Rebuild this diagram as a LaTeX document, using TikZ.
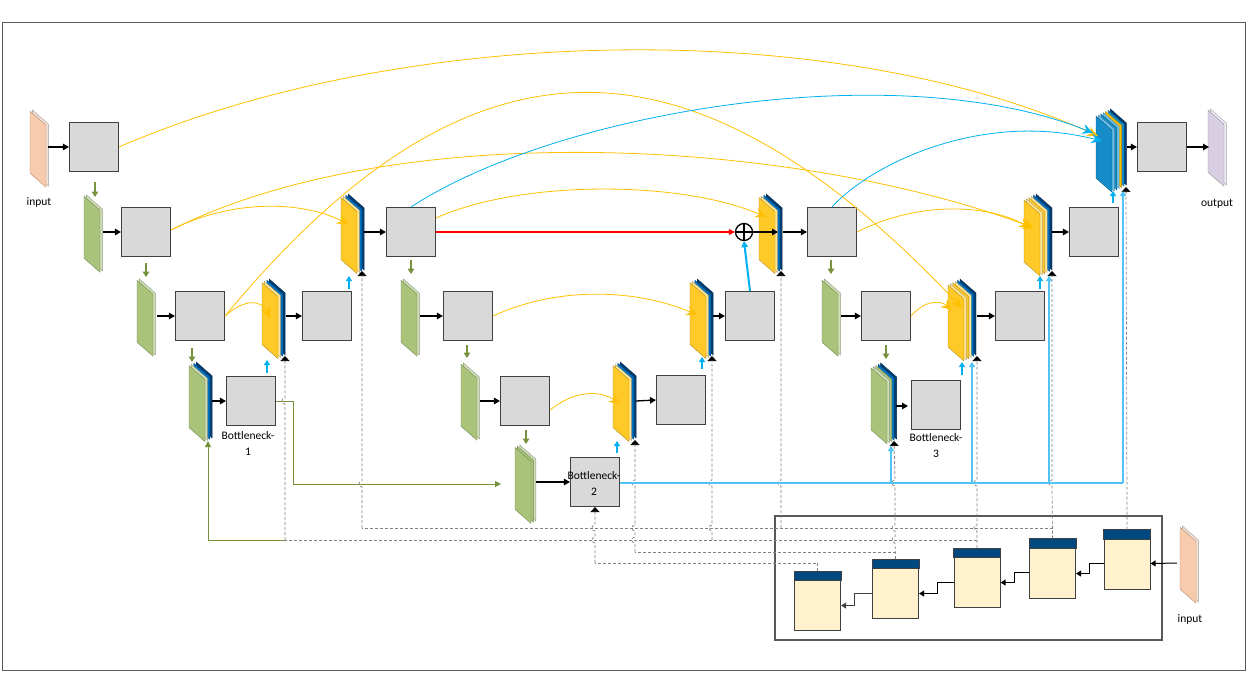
\documentclass[tikz,border=0pt]{standalone}
\usepackage{fontspec}
\setmainfont{Carlito}
\usetikzlibrary{arrows.meta,calc}
\definecolor{boxgray}{RGB}{217,217,217}
\definecolor{boxedge}{RGB}{64,64,64}
\definecolor{peach}{RGB}{248,203,173}
\definecolor{peachL}{RGB}{240,225,215}
\definecolor{grn}{RGB}{169,196,122}
\definecolor{grnL}{RGB}{208,222,186}
\definecolor{grnArrow}{RGB}{118,146,60}
\definecolor{yel}{RGB}{255,201,40}
\definecolor{yelL}{RGB}{255,230,153}
\definecolor{blu}{RGB}{0,112,192}
\definecolor{navy}{RGB}{0,60,110}
\definecolor{skyb}{RGB}{0,176,240}
\definecolor{skyL}{RGB}{80,196,242}
\definecolor{lav}{RGB}{216,207,227}
\definecolor{lavL}{RGB}{238,234,242}
\definecolor{cream}{RGB}{255,242,204}
\definecolor{hdr}{RGB}{0,72,128}
\definecolor{dashc}{RGB}{127,127,127}
\definecolor{curveY}{RGB}{255,192,0}
\definecolor{outb}{RGB}{22,140,200}
\definecolor{outbL}{RGB}{110,190,232}
\definecolor{framec}{RGB}{89,89,89}
\newcommand{\slab}[4]{%
  \foreach \c [count=\i] in {#4}{%
    \pgfmathsetmacro{\sx}{#1+(#3-\i)*2.4}%
    \pgfmathsetmacro{\sy}{#2+(\i-1)*1.2}%
    \filldraw[fill=\c,draw=\c!70!black,line width=0.4pt] (\sx,\sy) -- ++(16,14) -- ++(0,62) -- ++(-16,-14) -- cycle;
  }}
\newcommand{\jp}[2]{-- (#1,#2+3) .. controls (#1-4,#2+3) and (#1-4,#2-3) .. (#1,#2-3)}
\tikzset{
  gbox/.style={draw=boxedge,fill=boxgray,line width=1.1pt,minimum width=49pt,minimum height=49pt,inner sep=0pt},
  pbox/.style={draw=boxedge,fill=cream,line width=1.1pt,minimum width=46pt,minimum height=59pt,inner sep=0pt,anchor=north west},
  conn/.style={-{Triangle[length=6pt,width=6.5pt]},line width=1.3pt,black},
  garr/.style={-{Triangle[length=5.5pt,width=6.5pt]},draw=grnArrow,line width=1.3pt},
  gline/.style={draw=grnArrow,line width=1pt},
  cstub/.style={-{Triangle[length=5pt,width=6pt]},draw=skyb,line width=1.3pt},
  cline/.style={draw=skyL,line width=1.3pt},
  clinea/.style={-{Triangle[length=5pt,width=6pt]},draw=skyL,line width=1.3pt},
  dl/.style={draw=dashc,dash pattern=on 3pt off 2pt,line width=0.7pt},
  tri/.style={-{Triangle[length=5pt,width=9pt,color=black]}},
  ya/.style={draw=curveY,line width=0.8pt,-{Stealth[length=11pt,width=10pt,inset=4pt]}},
  ca/.style={draw=skyb,line width=0.8pt,-{Stealth[length=11pt,width=10pt,inset=4pt]}},
  parr/.style={-{Triangle[length=5pt,width=6pt]},line width=1pt,black},
  lbl/.style={font=\fontsize{11.5}{16}\selectfont,align=center,inner sep=0pt},
}
\begin{document}
\begin{tikzpicture}[x=1pt,y=-1pt]
\useasboundingbox (0,0) rectangle (1248,673);
\draw[framec,line width=1pt] (2,22) rectangle (1245,670);
% ---------- slabs ----------
\slab{30}{110}{2}{peachL,peach}
\slab{84}{195}{2}{grnL,grn}
\slab{137}{279}{2}{grnL,grn}
\slab{189}{362}{4}{navy,blu,grnL,grn}
\slab{262}{279}{4}{navy,blu,yelL,yel}
\slab{341}{194}{4}{navy,blu,yelL,yel}
\slab{401}{279}{2}{grnL,grn}
\slab{461}{363}{2}{grnL,grn}
\slab{515}{445}{3}{grnL,grn,grn}
\slab{613}{362}{4}{navy,blu,yelL,yel}
\slab{690}{279}{4}{navy,blu,yelL,yel}
\slab{759}{194}{4}{navy,blu,yelL,yel}
\slab{822}{279}{2}{grnL,grn}
\slab{871}{363}{5}{navy,blu,grn,grnL,grn}
\slab{948}{279}{6}{navy,blu,yelL,yel,yelL,yel}
\slab{1024}{194}{6}{navy,blu,yelL,yel,yelL,yel}
\slab{1096}{109}{7}{navy,outb,curveY,outbL,outb,outbL,outb}
\slab{1208}{109}{2}{lavL,lav}
\slab{1180}{526}{2}{peachL,peach}
% ---------- gray boxes ----------
\node[gbox] (A1) at (94,147) {};
\node[gbox] (A2) at (146,232) {};
\node[gbox] (A3) at (200,316) {};
\node[gbox] (B1) at (251,401) {};
\node[gbox] (C3) at (327,316) {};
\node[gbox] (C2) at (411,232) {};
\node[gbox] (D2) at (468,316) {};
\node[gbox] (D3) at (525,401) {};
\node[gbox] (B2) at (595,482) {};
\node[gbox] (E4) at (681,400) {};
\node[gbox] (E3) at (750,316) {};
\node[gbox] (E2) at (832,232) {};
\node[gbox] (F3) at (886,316) {};
\node[gbox] (B3) at (936,405) {};
\node[gbox] (G3) at (1020,316) {};
\node[gbox] (G2) at (1094,232) {};
\node[gbox] (H1) at (1162,147) {};
% ---------- labels ----------
\node[lbl] (tin) at (39,202) {input};
\node[lbl] (tout) at (1217,204) {output};
\node[lbl] (tb1) at (248,443) {Bottleneck-\\1};
\node[lbl] (tb2) at (594,483) {Bottleneck-\\2};
\node[lbl] (tb3) at (936,446) {Bottleneck-\\3};
\node[lbl] (tin2) at (1190,619) {input};
% ---------- slab anchor coordinates ----------
\coordinate (s0r) at (48,147);
\coordinate (g1r) at (103,232);
\coordinate (g2r) at (157,316);
\coordinate (g3r) at (212,401);
\coordinate (y13r) at (286,316);
\coordinate (y12r) at (364,232);
\coordinate (g4r) at (420,316);
\coordinate (g5r) at (480,401);
\coordinate (g6r) at (536,482);
\coordinate (g6l) at (501,484);
\coordinate (y24r) at (636,401);
\coordinate (y23r) at (713,316);
\coordinate (y22in) at (778,232);
\coordinate (y22r) at (783,232);
\coordinate (g7r) at (841,316);
\coordinate (g8r) at (896,406);
\coordinate (g8t) at (908,406);
\coordinate (y33r) at (977,316);
\coordinate (y32r) at (1052,232);
\coordinate (outr) at (1127,147);
\coordinate (lavl) at (1209,147);
\coordinate (pin) at (1177,563);
% triangle (dashed-line) targets
\coordinate (T12) at (362,271);
\coordinate (T13) at (285,356);
\coordinate (T24) at (635,440);
\coordinate (T23) at (712,356);
\coordinate (T22) at (781,271);
\coordinate (T34) at (894,441);
\coordinate (T33) at (977,356);
\coordinate (T32) at (1052,271);
\coordinate (TO) at (1126,187);
\coordinate (G3b) at (208,441);
% ---------- panel ----------
\draw[framec,line width=1.1pt] (775,516) rectangle (1162,640);
\node[pbox] (P1) at (794,571) {};
\node[pbox] (P2) at (872,559) {};
\node[pbox] (P3) at (953.5,548) {};
\node[pbox] (P4) at (1029,538.5) {};
\node[pbox] (P5) at (1103.5,529.5) {};
\foreach \p in {P1,P2,P3,P4,P5}{
  \filldraw[fill=hdr,draw=boxedge,line width=1pt] (\p.north west) rectangle ($(\p.north east)+(0,9.5)$);
}
\draw[parr] (pin) -- ([yshift=-4pt]P5.east);
\draw[parr] ([yshift=-4pt]P5.west) -- ++(-14,0) |- ([yshift=-5pt]P4.east);
\draw[parr] ([yshift=-4pt]P4.west) -- ++(-15,0) |- ([yshift=-4.5pt]P3.east);
\draw[parr] ([yshift=-4.5pt]P3.west) -- ++(-16,0) |- ([yshift=-4.5pt]P2.east);
\draw[parr,draw=black!75] ([yshift=-4.5pt]P2.west) -- ++(-18,0) |- ([yshift=-4.5pt]P1.east);
% ---------- black arrows ----------
\draw[conn] (s0r) -- (A1.west);
\draw[conn] (g1r) -- (A2.west);
\draw[conn] (g2r) -- (A3.west);
\draw[conn] (g3r) -- (B1.west);
\draw[conn] (y13r) -- (C3.west);
\draw[conn] (y12r) -- (C2.west);
\draw[conn] (g4r) -- (D2.west);
\draw[conn] (g5r) -- (D3.west);
\draw[conn] (g6r) -- (B2.west);
\draw[conn] (y24r) -- (E4.west);
\draw[conn] (y23r) -- (E3.west);
\draw[conn] (y22r) -- (E2.west);
\draw[conn] (g7r) -- (F3.west);
\draw[conn] (g8r) -- (g8t);
\draw[conn] (y33r) -- (G3.west);
\draw[conn] (y32r) -- (G2.west);
\draw[conn] (outr) -- (H1.west);
\draw[conn] (H1.east) -- (lavl);
% ---------- green down arrows ----------
\draw[garr] ($(A1.south)+(1,10)$) -- ++(0,15);
\draw[garr] ($(A2.south)+(0,6)$) -- ++(0,14);
\draw[garr] ($(A3.south)+(-8,7)$) -- ++(0,14);
\draw[garr] ($(C2.south)+(0,3)$) -- ++(0,14);
\draw[garr] ($(D2.south)+(-1,4)$) -- ++(0,13);
\draw[garr] ($(D3.south)+(1,4)$) -- ++(0,14);
\draw[garr] ($(E2.south)+(-1,3)$) -- ++(0,14);
\draw[garr] ($(F3.south)+(0,4)$) -- ++(0,14);
% ---------- green skip lines ----------
\draw[gline,-{Triangle[length=6pt,width=6pt]}] (B1.east) -- (293,401) -- (293,484) -- (g6l);
% ---------- dashed lines (panel -> decoders) ----------
\coordinate (J1) at (0,563);
\coordinate (J2) at (0,552);
\coordinate (J3) at (0,540);
\coordinate (J4) at (0,528);
\draw[dl,tri] (P5.north) -- (TO);
\draw[dl,tri] (P4.north) \jp{1052}{483} -- (T32);
\draw[dl] (P4.north |- J4) -- (T12 |- J4);
\draw[dl,tri] (T12 |- J4) \jp{362}{484} -- (T12);
\draw[dl,tri] (T22 |- J4) \jp{781}{483} -- (T22);
\draw[dl,tri] (P3.north) \jp{977}{528} \jp{977}{483} -- (T33);
\draw[dl] (P3.north |- J3) -- (T13 |- J3);
\draw[dl,tri] (T13 |- J3) \jp{285}{401} -- (T13);
\draw[dl,tri] (T23 |- J3) \jp{712}{528} \jp{712}{483} -- (T23);
\draw[gline,-{Triangle[length=6pt,width=6pt]}] (T13 |- J3) -| (G3b);
\draw[dl,tri] (P2.north) \jp{895}{540} \jp{895}{528} \jp{895}{483} -- (T34);
\draw[dl] (P2.north |- J2) -- (T24 |- J2);
\draw[dl,tri] (T24 |- J2) \jp{635}{540} \jp{635}{528} \jp{635}{483} -- (T24);
\draw[dl] (P1.north) -- (P1.north |- J1) -- (B2.south |- J1);
\draw[dl,tri] (B2.south |- J1) \jp{595}{540} \jp{595}{528} -- (B2.south);
% ---------- cyan lines ----------
\coordinate (c1) at (891,483);
\coordinate (c2) at (972,483);
\coordinate (c3) at (1049,483);
\coordinate (c4) at (1123,483);
\draw[cline] (B2.east |- c1) -- (c4);
\draw[clinea] (c1) -- (891,446);
\draw[clinea] (c2) -- (972,362);
\draw[clinea] (c3) -- (1049,276);
\draw[clinea] (c4) -- (1123,191);
\draw[cstub] (267,373) -- (267,360);
\draw[cstub] (349,289) -- (349,276);
\draw[cstub] (617,453) -- (617,441);
\draw[cstub] (702,369) -- (702,357);
\draw[cstub] (962,375) -- (962,362);
\draw[cstub] (1040,289) -- (1040,276);
\draw[cstub] (1113,203) -- (1113,191);
% ---------- plus node ----------
\node[circle,draw=black,line width=1.3pt,minimum size=17pt,inner sep=0pt,fill=white] (plus) at (744,232) {};
\draw[line width=1.1pt] (plus.north) -- (plus.south) (plus.west) -- (plus.east);
\draw[-{Triangle[length=6pt,width=6pt]},draw=red,line width=1.2pt] (C2.east) -- (plus.west);
\draw[-{Triangle[length=6pt,width=6.5pt]},draw=skyb,line width=2pt] (E3.north) -- (plus.south);
\draw[conn] (plus.east) -- (y22in);
% ---------- yellow curves ----------
\draw[ya] (A1.east) .. controls (400,25) and (830,15) .. (1098,136);
\draw[ya] ([yshift=2pt]A2.east) .. controls (230,200) and (300,200) .. (348,224);
\draw[ya] ([yshift=2pt]A2.east) .. controls (400,115) and (800,140) .. (1034,228);
\draw[ya] (A3.east) .. controls (245,298) and (262,300) .. (270,318);
\draw[ya] (A3.east) .. controls (470,20) and (690,20) .. (962,308);
\draw[ya] ([yshift=14pt]C2.east) .. controls (520,180) and (680,180) .. (766,217);
\draw[ya] (D2.east) .. controls (560,285) and (640,290) .. (697,315);
\draw[ya] ([yshift=-9pt]D3.east) .. controls (575,390) and (600,390) .. (620,404);
\draw[ya] (E2.east) .. controls (920,200) and (990,205) .. (1030,228);
\draw[ya] (F3.east) .. controls (925,300) and (940,300) .. (952,310);
% ---------- cyan curves ----------
\draw[ca] (C2.north) .. controls (560,110) and (900,55) .. (1093,133);
\draw[ca] (E2.north) .. controls (870,165) and (980,110) .. (1102,141);
\end{tikzpicture}
\end{document}
